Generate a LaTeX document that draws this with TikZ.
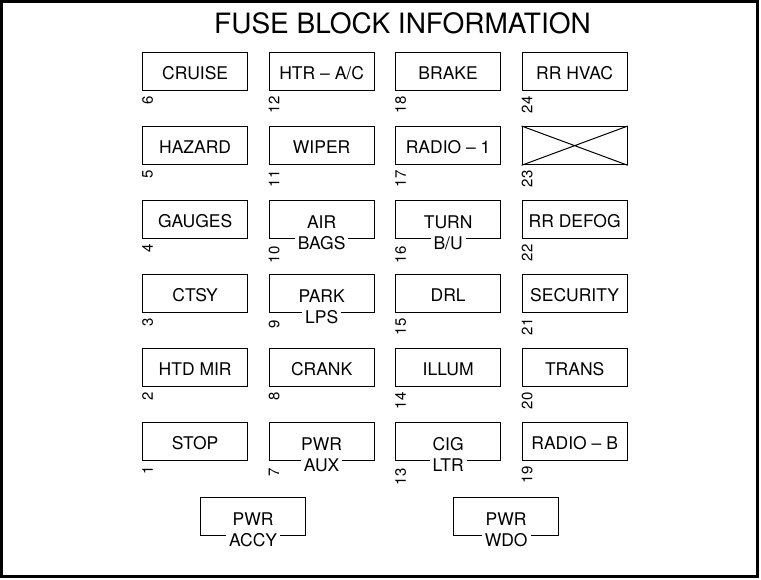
\documentclass[tikz,border=0pt]{standalone}
\usepackage{fontspec}
\setmainfont{TeX Gyre Heros}
\begin{document}
\begin{tikzpicture}[
    x=1pt,y=-1pt,
    fuse/.style={draw,line width=1.3pt,minimum width=105pt,minimum height=38pt,
        anchor=north west,inner sep=0pt,text height=15pt,text depth=0pt,
        font=\fontsize{17.5}{17.5}\selectfont},
    lower/.style={fill=white,inner sep=3pt,anchor=base,
        font=\fontsize{17.5}{17.5}\selectfont},
    upper/.style={inner sep=0pt,anchor=base,font=\fontsize{17.5}{17.5}\selectfont},
    num/.style={rotate=90,anchor=north east,inner sep=0pt,
        font=\fontsize{15}{15}\selectfont}]
    \useasboundingbox (0,0) rectangle (761,579);
    \draw[line width=3pt] (1.5,1.5) rectangle (757.5,576);
    \node[anchor=base,inner sep=0pt,font=\fontsize{28}{28}\selectfont]
        (title) at (402.5,33) {FUSE BLOCK INFORMATION};
    % one-line fuses: column/row/text/number
    \foreach \c/\r/\t/\n in {0/0/CRUISE/6,0/1/HAZARD/5,0/2/GAUGES/4,0/3/CTSY/3,
        0/4/HTD MIR/2,0/5/STOP/1,1/0/{HTR – A/C}/12,1/1/WIPER/11,1/4/CRANK/8,
        2/0/BRAKE/18,2/1/RADIO – 1/17,2/3/DRL/15,2/4/ILLUM/14,
        3/0/RR HVAC/24,3/1/{}/23,3/2/RR DEFOG/22,3/3/SECURITY/21,
        3/4/TRANS/20,3/5/RADIO – B/19} {
        \node[fuse] (f\n) at ({142+126.5*\c},{52+74*\r}) {\t};
        \node[num] (n\n) at ([yshift=-5pt]f\n.south west) {\n};
    }
    % two-line fuses, second line sits on the bottom edge
    \foreach \c/\r/\t/\b/\n in {1/2/AIR/BAGS/10,1/3/PARK/LPS/9,1/5/PWR/AUX/7,
        2/2/TURN/{B/U}/16,2/5/CIG/LTR/13} {
        \node[fuse] (f\n) at ({142+126.5*\c},{52+74*\r}) {};
        \node[upper] (t\n) at ([yshift=-9pt]f\n.center) {\t};
        \node[lower] (b\n) at ([yshift=-10pt]f\n.south) {\b};
        \node[num] (n\n) at ([yshift=-7pt]f\n.south west) {\n};
    }
    \draw[line width=1pt] (f23.north west) -- (f23.south east)
        (f23.south west) -- (f23.north east);
    % the two below the grid
    \foreach \x/\b in {200/ACCY,453/WDO} {
        \node[fuse] (p\b) at (\x,497) {};
        \node[upper] (tp\b) at ([yshift=-9pt]p\b.center) {PWR};
        \node[lower] (bp\b) at ([yshift=-10pt]p\b.south) {\b};
    }
\end{tikzpicture}
\end{document}
